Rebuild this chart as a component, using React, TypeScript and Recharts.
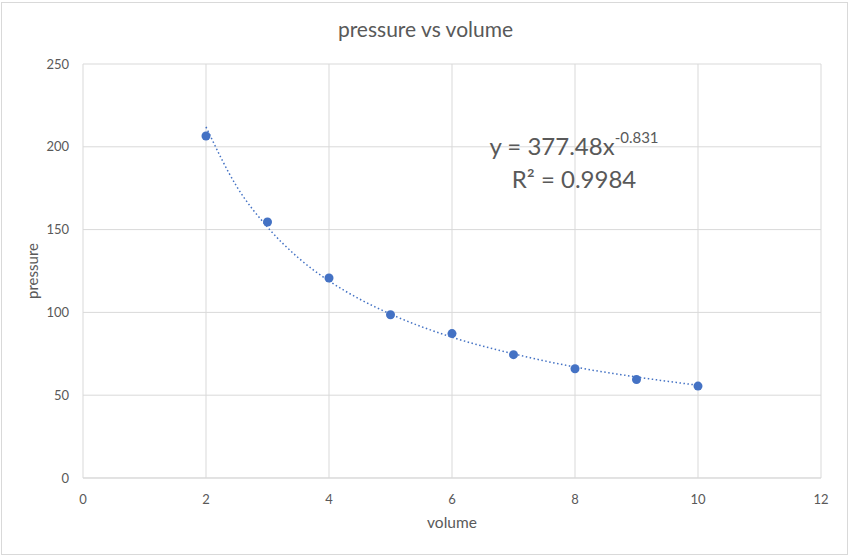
import React from 'react';
import {
  ComposedChart,
  Scatter,
  Line,
  XAxis,
  YAxis,
  CartesianGrid,
} from 'recharts';

const volumes = [2, 3, 4, 5, 6, 7, 8, 9, 10];
const pressures = [206.5, 154.6, 120.8, 98.6, 87.2, 74.5, 66, 59.5, 55.5];

// dotted power trendline
const trendX = [2, 2.5, 3, 3.5, 4, 4.5, 5, 6, 7, 8, 9, 10];
const trendY = [212, 176, 151.5, 133, 119, 108, 99, 85, 75, 67, 61, 56];

const xTicks = [0, 2, 4, 6, 8, 10, 12];
const yTicks = [0, 50, 100, 150, 200, 250];

const points = volumes.map((x, i) => ({ x, y: pressures[i] }));
const trend = trendX.map((x, i) => ({ x, y: trendY[i] }));

const blue = '#4472C4';
const textGray = '#595959';
const gridGray = '#d9d9d9';
const font = 'Lato, "Open Sans", sans-serif';

const YLabel = () => (
  <text
    x={0}
    y={0}
    transform="translate(38, 271) rotate(-90)"
    textAnchor="middle"
    fill={textGray}
    fontSize={15}
    fontFamily={font}
  >
    pressure
  </text>
);

export default function App() {
  return (
    <div style={{ position: 'absolute', left: 0, top: 0, width: 851, height: 558, background: '#fff' }}>
      <div
        style={{
          position: 'absolute',
          left: 1,
          top: 2,
          width: 845,
          height: 551,
          border: `1px solid ${gridGray}`,
        }}
      />
      <div
        style={{
          position: 'absolute',
          left: 0,
          top: 16,
          width: 851,
          textAlign: 'center',
          fontFamily: font,
          fontSize: 21,
          color: textGray,
        }}
      >
        pressure vs volume
      </div>
      <div style={{ position: 'absolute', left: 0, top: 0 }}>
        <ComposedChart
          width={851}
          height={558}
          margin={{ top: 64, right: 30, bottom: 50, left: 0 }}
        >
          <CartesianGrid stroke={gridGray} strokeWidth={1} />
          <XAxis
            type="number"
            dataKey="x"
            domain={[0, 12]}
            ticks={xTicks}
            height={30}
            axisLine={{ stroke: gridGray }}
            tickLine={false}
            tickMargin={11}
            tick={{ fill: textGray, fontSize: 13, fontFamily: font }}
            label={{
              value: 'volume',
              position: 'bottom',
              offset: 9,
              fill: textGray,
              fontSize: 15.5,
              fontFamily: font,
            }}
          />
          <YAxis
            type="number"
            dataKey="y"
            domain={[0, 250]}
            ticks={yTicks}
            width={83}
            axisLine={false}
            tickLine={false}
            tickMargin={8}
            tick={{ fill: textGray, fontSize: 13, fontFamily: font }}
            label={<YLabel />}
          />
          <Line
            data={trend}
            dataKey="y"
            type="monotone"
            stroke={blue}
            strokeWidth={1.5}
            strokeDasharray="1.5 2.5"
            dot={false}
            activeDot={false}
            isAnimationActive={false}
          />
          <Scatter
            data={points}
            dataKey="y"
            fill={blue}
            isAnimationActive={false}
            shape={(p: any) => <circle cx={p.cx} cy={p.cy} r={4.5} fill={blue} />}
          />
        </ComposedChart>
      </div>
      <div
        style={{
          position: 'absolute',
          left: 474,
          top: 129,
          width: 200,
          textAlign: 'center',
          fontFamily: font,
          fontSize: 24,
          lineHeight: '33px',
          color: textGray,
        }}
      >
        <div>
          y = 377.48x<sup style={{ fontSize: 15, verticalAlign: 'top', lineHeight: '15px', position: 'relative', top: 1 }}>-0.831</sup>
        </div>
        <div>R² = 0.9984</div>
      </div>
    </div>
  );
}
